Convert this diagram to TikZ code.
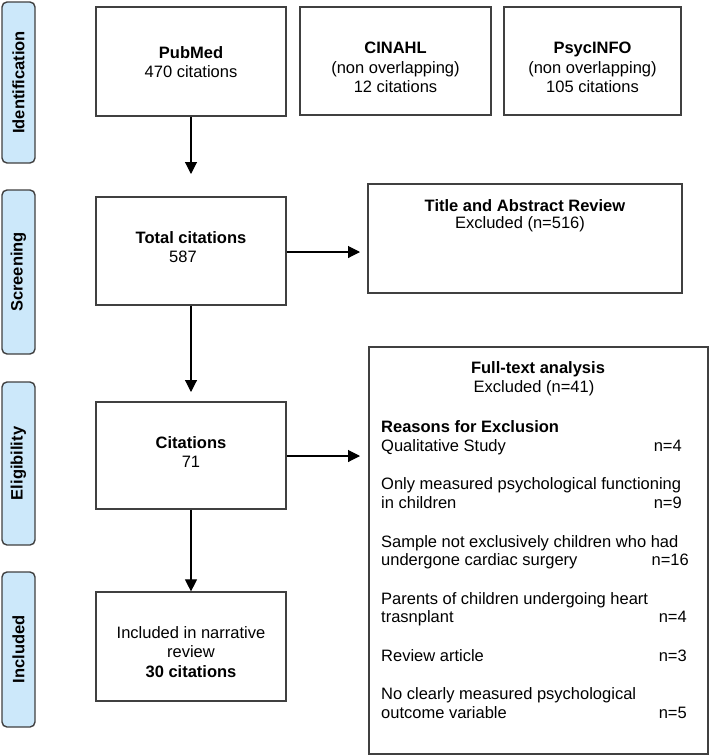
\documentclass[tikz,border=0pt]{standalone}
\usepackage{fontspec}
\setmainfont{Liberation Sans}
\usetikzlibrary{arrows.meta}
\definecolor{phasefill}{HTML}{CCE8FA}
\definecolor{boxline}{HTML}{404040}
\tikzset{
  phase/.style={draw=boxline, line width=1.4pt, fill=phasefill, rounded corners=5pt, inner sep=0pt},
  phasetext/.style={rotate=90, font=\fontsize{16.5}{19}\selectfont\bfseries, inner sep=0pt},
  box/.style={draw=boxline, line width=1.2pt, inner sep=0pt},
  txt/.style={font=\fontsize{16.5}{19.2}\selectfont, align=center, inner sep=0pt},
  ltxt/.style={font=\fontsize{16.5}{19.2}\selectfont, inner sep=0pt, anchor=base west},
  rtxt/.style={font=\fontsize{16.5}{19.2}\selectfont, inner sep=0pt, anchor=base east},
  conn/.style={line width=1.1pt, -{Triangle[width=12pt,length=12pt]}},
}
\begin{document}
\begin{tikzpicture}[x=1pt,y=-1pt]
\useasboundingbox (0,0) rectangle (709,756);
% phase labels
\node[phase, minimum width=33pt, minimum height=161pt] (ph1) at (18.5,82.5) {};
\node[phasetext] (ph1t) at (ph1.center) {Identification};
\node[phase, minimum width=33pt, minimum height=164pt] (ph2) at (18.5,272) {};
\node[phasetext] (ph2t) at (ph2.center) {Screening};
\node[phase, minimum width=33pt, minimum height=163pt] (ph3) at (18.5,463.5) {};
\node[phasetext] (ph3t) at (ph3.center) {Eligibility};
\node[phase, minimum width=33pt, minimum height=155pt] (ph4) at (18.5,649.5) {};
\node[phasetext] (ph4t) at (ph4.center) {Included};
% top boxes
\node[box, minimum width=190pt, minimum height=109pt] (pub) at (191,61.5) {};
\node[txt] (pubt) at (191,62) {\textbf{PubMed}\\470 citations};
\node[box, minimum width=191pt, minimum height=108pt] (cin) at (395.5,61) {};
\node[txt] (cint) at (395.5,67.5) {\textbf{CINAHL}\\(non overlapping)\\12 citations};
\node[box, minimum width=177pt, minimum height=108pt] (psy) at (592.5,61) {};
\node[txt] (psyt) at (592.5,67.5) {\textbf{PsycINFO}\\(non overlapping)\\105 citations};
% middle column
\node[box, minimum width=190pt, minimum height=108pt] (tot) at (191,251) {};
\node[txt] (tott1) at (191,238) {\textbf{Total citations}};
\node[txt] (tott2) at (183,257) {587};
\node[box, minimum width=314pt, minimum height=109pt] (tar) at (525,238.5) {};
\node[txt] (tart1) at (525,206) {\textbf{Title and Abstract Review}};
\node[txt] (tart2) at (520,224.5) {Excluded (n=516)};
\node[box, minimum width=190pt, minimum height=107pt] (cit) at (191,455.5) {};
\node[txt] (citt) at (191,452) {\textbf{Citations}\\71};
\node[box, minimum width=190pt, minimum height=109pt] (inc) at (191,646.5) {};
\node[txt] (inct) at (191,652) {Included in narrative\\review\\\textbf{30 citations}};
% full-text box
\node[box, minimum width=339pt, minimum height=407pt] (ft) at (538.5,550.5) {};
\node[txt] (ft1) at (538,369) {\textbf{Full-text analysis}};
\node[txt] (ft2) at (534,388) {Excluded (n=41)};
\node[ltxt] (r0) at (381,432) {\textbf{Reasons for Exclusion}};
\node[ltxt] (r1) at (381,451) {Qualitative Study};
\node[rtxt] (n1) at (682,451) {n=4};
\node[ltxt] (r2a) at (381,489) {Only measured psychological functioning};
\node[ltxt] (r2b) at (381,508) {in children};
\node[rtxt] (n2) at (682,508) {n=9};
\node[ltxt] (r3a) at (381,547) {Sample not exclusively children who had};
\node[ltxt] (r3b) at (381,565.5) {undergone cardiac surgery};
\node[rtxt] (n3) at (689,565.5) {n=16};
\node[ltxt] (r4a) at (381,604) {Parents of children undergoing heart};
\node[ltxt] (r4b) at (381,622.5) {trasnplant};
\node[rtxt] (n4) at (687,622.5) {n=4};
\node[ltxt] (r5) at (381,661) {Review article};
\node[rtxt] (n5) at (687,661) {n=3};
\node[ltxt] (r6a) at (381,699.5) {No clearly measured psychological};
\node[ltxt] (r6b) at (381,718) {outcome variable};
\node[rtxt] (n6) at (687,718) {n=5};
% connectors
\coordinate (e1) at (191,174);
\coordinate (e2) at (191,392);
\coordinate (e3) at (360,252);
\coordinate (e4) at (360,456);
\draw[conn] (pub.south) -- (e1);
\draw[conn] (tot.south) -- (e2);
\draw[conn] (tot.east |- e3) -- (e3);
\draw[conn] (cit.east |- e4) -- (e4);
\draw[conn] (cit.south) -- (inc.north);
\end{tikzpicture}
\end{document}
